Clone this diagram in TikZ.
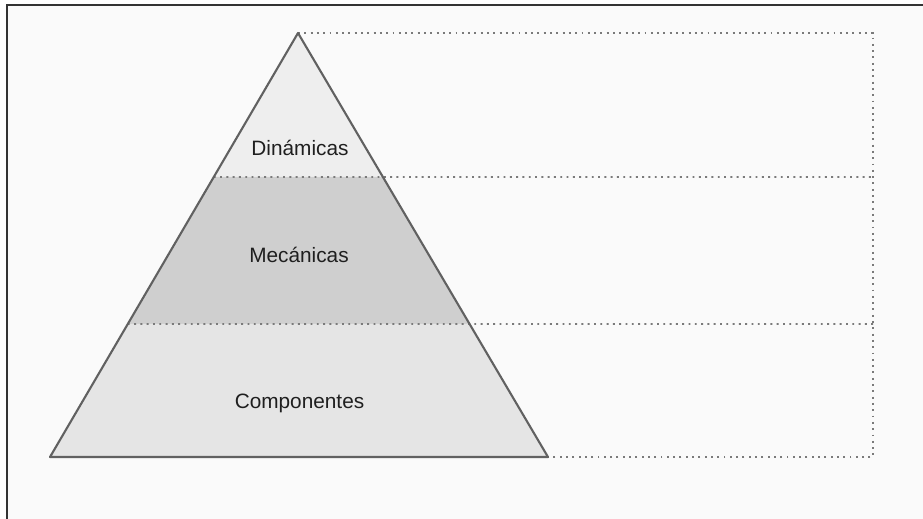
\documentclass[tikz,border=0pt]{standalone}
\usepackage{fontspec}
\setmainfont{Liberation Sans}
\usetikzlibrary{calc}
\definecolor{capaA}{HTML}{EEEEEE}
\definecolor{capaB}{HTML}{CFCFCF}
\definecolor{capaC}{HTML}{E5E5E5}
\definecolor{borde}{HTML}{616161}
\definecolor{puntos}{HTML}{7A7A7A}
\begin{document}
\begin{tikzpicture}[x=1pt,y=-1pt,
  capa/.style={font=\fontsize{20.8}{25}\selectfont,anchor=base,inner sep=0pt,text=black!88},
  guia/.style={puntos,line width=1.9pt,dash pattern=on 1.9pt off 4.4pt}]
  \useasboundingbox (0,0) rectangle (923,519);
  \fill[black!2] (7,5) rectangle (923,519);
  \draw[black!80,line width=2pt] (7,519) -- (7,5) -- (923,5);
  \coordinate (V) at (298,33);  % vértice
  \coordinate (I) at (50,457);
  \coordinate (D) at (548,457);
  \coordinate (I1) at ($(V)!0.3396!(I)$);
  \coordinate (D1) at ($(V)!0.3396!(D)$);
  \coordinate (I2) at ($(V)!0.6863!(I)$);
  \coordinate (D2) at ($(V)!0.6863!(D)$);
  \fill[capaA] (V) -- (I1) -- (D1) -- cycle;
  \fill[capaB] (I1) -- (I2) -- (D2) -- (D1) -- cycle;
  \fill[capaC] (I2) -- (I) -- (D) -- (D2) -- cycle;
  % líneas de puntos
  \coordinate (E0) at (873,33);
  \coordinate (E1) at (873,177);
  \coordinate (E2) at (873,324);
  \coordinate (E3) at (873,457);
  \draw[guia] (V) -- (E0) -- (E3) -- (D);
  \foreach \n in {1,2}
    \draw[guia] (I\n) -- (E\n);
  \draw[borde,line width=2.1pt,line join=round] (V) -- (I) -- (D) -- cycle;
  \node[capa] (din) at (300,155) {Dinámicas};
  \node[capa] (mec) at (299,262) {Mecánicas};
  \node[capa] (com) at (299.5,408) {Componentes};
\end{tikzpicture}
\end{document}
